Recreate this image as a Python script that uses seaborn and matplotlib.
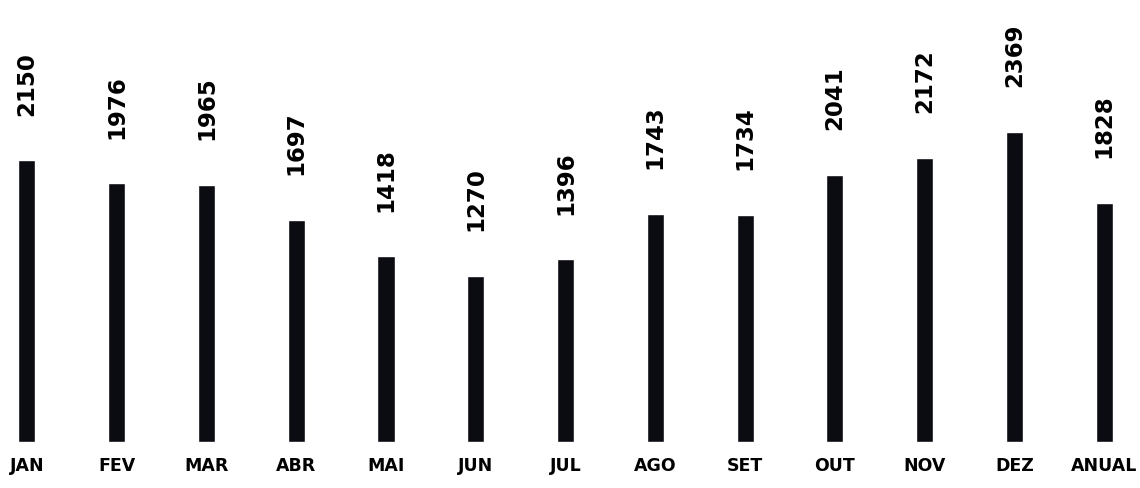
import matplotlib
matplotlib.use('Agg')
import matplotlib.pyplot as plt
import seaborn as sns
import pandas as pd

meses = ['JAN', 'FEV', 'MAR', 'ABR', 'MAI', 'JUN', 'JUL', 'AGO', 'SET', 'OUT', 'NOV', 'DEZ', 'ANUAL']
valores = [2150, 1976, 1965, 1697, 1418, 1270, 1396, 1743, 1734, 2041, 2172, 2369, 1828]

df = pd.DataFrame({'mes': meses, 'valor': valores})

sns.set_style('white')
plt.rcParams['font.family'] = ['DejaVu Sans']

fig = plt.figure(figsize=(11.4, 4.88), dpi=100)
ax = fig.add_axes([0, 0.094, 1, 0.906])
sns.barplot(data=df, x='mes', y='valor', color='#0b0b12', saturation=1, width=0.19, ax=ax)

for i, v in enumerate(valores):
    ax.annotate(str(v), (i, v), xytext=(0, 32), textcoords='offset points',
                rotation=90, ha='center', va='bottom', fontsize=16.5,
                fontweight='bold', color='black')

ax.set_xlim(-0.3, 12.4)
ax.set_ylim(0, 3374)
ax.set_xlabel('')
ax.set_ylabel('')
ax.set_yticks([])
ax.tick_params(axis='x', length=0, pad=11)
for lbl in ax.get_xticklabels():
    lbl.set_fontweight('bold')
    lbl.set_fontsize(12.5)
    lbl.set_color('black')
sns.despine(ax=ax, left=True, bottom=True)

fig.savefig('out.png', dpi=100)
